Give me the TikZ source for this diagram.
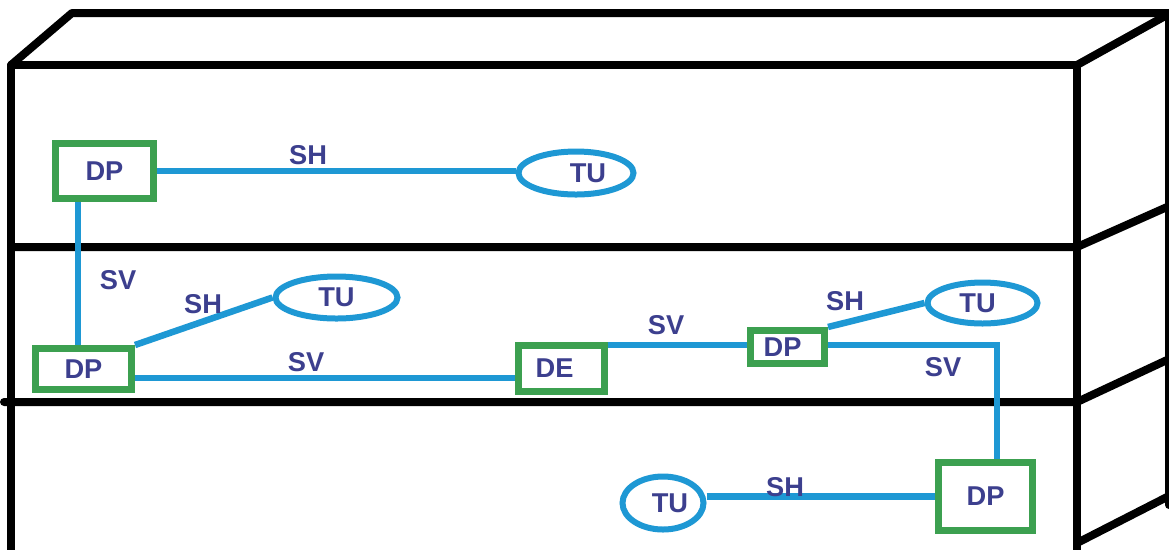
\documentclass[tikz,border=0pt]{standalone}
\usepackage{fontspec}
\setmainfont{Liberation Sans}
\usetikzlibrary{shapes.geometric}
\newdimen\px \px=0.02cm
\definecolor{linkblue}{HTML}{1E98D4}
\definecolor{boxgreen}{HTML}{3CA050}
\definecolor{labelblue}{HTML}{3C3F8E}

\begin{document}
\begin{tikzpicture}[x=0.02cm, y=-0.02cm,
  frame/.style={line width=8\px, line cap=round, line join=round},
  link/.style={draw=linkblue, line width=6.5\px},
  txt/.style={text=labelblue, font=\bfseries\fontsize{15.5}{17}\selectfont},
  dpbox/.style={txt, rectangle, draw=boxgreen, line width=7\px, inner sep=0pt},
  tubox/.style={txt, ellipse, draw=linkblue, line width=6\px, inner sep=0pt},
  lbl/.style={txt, inner sep=0pt}
]
\useasboundingbox (0,0) rectangle (1169,549);
\fill[white] (0,0) rectangle (1169,549);

% cabinet outline: front face, top and right side
\draw[frame] (11,555) -- (11,65) -- (1077,65) -- (1077,555);
\draw[frame] (11,65) -- (72,13) -- (1169,13);
\draw[frame] (1077,65) -- (1167,15);
\draw[frame] (1169,13) -- (1169,505);
% shelves
\draw[frame] (11,247) -- (1077,247) -- (1167,207);
\draw[frame] (4,402) -- (1077,402) -- (1167,360);
\draw[frame] (1077,543) -- (1167,497);

% distribution points, equipment and terminal units
\node[dpbox, minimum width=98\px, minimum height=55\px] (dp1) at (104.5,171) {DP};
\node[dpbox, minimum width=96\px, minimum height=41\px] (dp2) at (83.5,369) {DP};
\node[dpbox, minimum width=86\px, minimum height=46\px] (de)  at (561.5,368.5) {DE\hspace*{14\px}};
\node[dpbox, minimum width=74\px, minimum height=33\px] (dp3) at (787.5,347) {DP\hspace*{10\px}};
\node[dpbox, minimum width=94\px, minimum height=68\px] (dp4) at (985.5,496.5) {DP};

\node[tubox, minimum width=115\px, minimum height=43\px] (tu1) at (576,173) {\hspace*{24\px}\raisebox{-3\px}{TU}};
\node[tubox, minimum width=122\px, minimum height=42\px] (tu2) at (336.5,297.5) {TU};
\node[tubox, minimum width=110\px, minimum height=41\px] (tu3) at (982.5,303) {\raisebox{-3\px}{TU}\hspace*{10\px}};
\node[tubox, minimum width=81\px, minimum height=53\px] (tu4) at (663,503) {\hspace*{14\px}TU};

% links
\draw[link] (dp1.east) -- (dp1.east -| tu1.west);
\draw[link] ([xshift=-26.5\px]dp1.south) -- ([xshift=-26.5\px]dp1.south |- dp2.north);
\draw[link] (dp2.north east) -- (tu2.west);
\draw[link] ([yshift=-9\px]dp2.east) -- ([yshift=-9\px]dp2.east -| de.west);
\draw[link] ([yshift=2\px]dp3.west -| de.east) -- ([yshift=2\px]dp3.west);
\draw[link] (dp3.north east) -- (tu3.west);
\draw[link] ([yshift=2\px]dp3.east) -| ([xshift=11.5\px]dp4.north);
\draw[link] (dp4.west -| tu4.east) -- (dp4.west);

% link labels
\node[lbl] (l1) at (308,155) {SH};
\node[lbl] (l2) at (118,280) {SV};
\node[lbl] (l3) at (203,304) {SH};
\node[lbl] (l4) at (306,362) {SV};
\node[lbl] (l5) at (666,325) {SV};
\node[lbl] (l6) at (845,301) {SH};
\node[lbl] (l7) at (943,367) {SV};
\node[lbl] (l8) at (785,487) {SH};
\end{tikzpicture}
\end{document}
